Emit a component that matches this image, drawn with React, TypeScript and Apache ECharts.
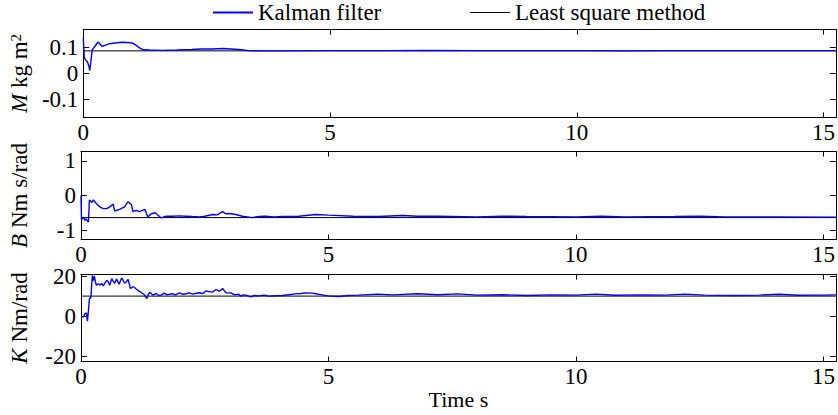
import React, { useEffect, useRef } from "react";
import * as echarts from "echarts";

// Time axis
const timeMax = 15.25;
const timeTicks = [0, 5, 10, 15];

// Least-squares estimates (constant over time)
const lsM = 0.086;
const lsB = -0.64;
const lsK = 10.3;

// Kalman filter estimate of M  [t (s), value (kg m^2)]
const kalmanM: [number, number][] = [
  [0, 0.135], [0.02, 0.06], [0.05, 0.05], [0.08, 0.045], [0.11, 0.03], [0.13, 0.01],
  [0.15, 0.04], [0.18, 0.09], [0.22, 0.1], [0.3, 0.12], [0.38, 0.103], [0.45, 0.108],
  [0.5, 0.112], [0.6, 0.115], [0.72, 0.118], [0.8, 0.119], [0.88, 0.118], [0.96, 0.117],
  [1.02, 0.114], [1.08, 0.106], [1.14, 0.097], [1.22, 0.09], [1.35, 0.089], [1.6, 0.088],
  [1.9, 0.089], [2.2, 0.091], [2.39, 0.093], [2.6, 0.093], [2.83, 0.095], [3.0, 0.093],
  [3.2, 0.09], [3.35, 0.087], [3.6, 0.086], [4.0, 0.086], [5.0, 0.087], [6.0, 0.087],
  [7.0, 0.088], [8.0, 0.087], [9.0, 0.087], [10.0, 0.087], [11.0, 0.086], [12.0, 0.087],
  [13.0, 0.087], [14.0, 0.087], [15.25, 0.087],
];

// Kalman filter estimate of B  [t (s), value (Nm s/rad)]
const kalmanB: [number, number][] = [
  [0, 0], [0.01, -0.7], [0.05, -0.63], [0.08, -0.72], [0.1, -0.68], [0.15, -0.77],
  [0.17, -0.13], [0.22, -0.2], [0.25, -0.13], [0.31, -0.23], [0.38, -0.33], [0.45, -0.38],
  [0.52, -0.38], [0.58, -0.33], [0.65, -0.25], [0.68, -0.45], [0.78, -0.4], [0.88, -0.33],
  [0.95, -0.18], [1.02, -0.27], [1.05, -0.47], [1.12, -0.43], [1.18, -0.47], [1.29, -0.4],
  [1.35, -0.62], [1.42, -0.53], [1.5, -0.5], [1.62, -0.65], [1.72, -0.6], [1.85, -0.6],
  [1.99, -0.59], [2.12, -0.6], [2.25, -0.61], [2.39, -0.62], [2.5, -0.6], [2.66, -0.55],
  [2.75, -0.56], [2.86, -0.47], [2.93, -0.53], [3.0, -0.52], [3.13, -0.55], [3.26, -0.6],
  [3.46, -0.64], [3.6, -0.61], [3.73, -0.6], [3.9, -0.62], [4.07, -0.61], [4.4, -0.6],
  [4.74, -0.55], [5.0, -0.57], [5.5, -0.6], [6.0, -0.61], [6.5, -0.58], [6.8, -0.6],
  [7.2, -0.6], [8.0, -0.62], [8.5, -0.6], [9.0, -0.61], [10.0, -0.62], [10.5, -0.6],
  [11.0, -0.62], [12.0, -0.61], [12.5, -0.6], [13.0, -0.62], [14.0, -0.62], [15.25, -0.63],
];

// Kalman filter estimate of K  [t (s), value (Nm/rad)]
const kalmanK: [number, number][] = [
  [0, 0], [0.05, 0], [0.08, 1.6], [0.11, 1.8], [0.13, -2.2], [0.15, 3], [0.17, 9],
  [0.2, 9.5], [0.21, 14], [0.23, 20.7], [0.25, 18], [0.27, 20.3], [0.29, 17.5], [0.31, 15.7],
  [0.35, 16.5], [0.38, 15.8], [0.42, 16.6], [0.45, 15.4], [0.49, 17], [0.52, 18.2],
  [0.55, 17.5], [0.58, 15.7], [0.62, 19], [0.65, 17.8], [0.68, 16.7], [0.72, 18.8],
  [0.77, 16.2], [0.82, 19.4], [0.85, 18.2], [0.88, 16.7], [0.92, 17.5], [0.95, 18.7],
  [0.98, 16], [1.0, 14.1], [1.05, 15], [1.08, 14.6], [1.12, 13.7], [1.17, 12.8],
  [1.22, 12.1], [1.28, 11], [1.33, 9.1], [1.36, 11.2], [1.39, 12.2], [1.45, 10.8],
  [1.52, 11.6], [1.58, 10.5], [1.63, 10.9], [1.68, 11.8], [1.73, 11], [1.79, 11.2],
  [1.85, 11.5], [1.9, 10.9], [1.99, 11.9], [2.06, 11.2], [2.12, 11.5], [2.19, 11.9],
  [2.26, 11.3], [2.33, 11.7], [2.39, 12.0], [2.46, 11.6], [2.53, 12.9], [2.6, 12.4],
  [2.66, 12.4], [2.73, 13.6], [2.79, 12.8], [2.83, 13.3], [2.86, 14.1], [2.93, 11.9],
  [3.03, 11.9], [3.08, 11.2], [3.13, 10.9], [3.18, 11.3], [3.23, 10.3], [3.28, 10.9],
  [3.33, 10.8], [3.43, 9.9], [3.5, 10.6], [3.6, 10.4], [3.7, 10.8], [3.8, 10.3],
  [3.9, 10.5], [4.07, 10.6], [4.2, 11.0], [4.33, 11.4], [4.45, 11.6], [4.53, 11.9],
  [4.67, 11.8], [4.8, 11.2], [4.9, 10.8], [5.0, 10.4], [5.2, 10.1], [5.4, 10.6],
  [5.6, 10.8], [6.0, 11.3], [6.3, 10.9], [6.8, 11.5], [7.2, 11.0], [7.6, 11.4],
  [8.0, 10.8], [8.5, 11.0], [9.0, 10.6], [9.5, 10.9], [10.0, 10.8], [10.4, 11.3],
  [10.8, 10.7], [11.3, 10.9], [11.8, 10.8], [12.2, 11.3], [12.6, 10.8], [13.2, 10.6],
  [13.7, 10.8], [14.1, 11.2], [14.5, 10.7], [15.0, 10.8], [15.25, 10.9],
];

// Y tick values of each panel
const ticksM = [-0.1, 0, 0.1];
const ticksB = [-1, 0, 1];
const ticksK = [-20, 0, 20];

const FONT = "'Liberation Serif', 'Times New Roman', serif";
const FS = 23;
const KALMAN = "Kalman filter";
const LS = "Least square method";
const KALMAN_COLOR = "#0000ff";

const panels = [
  { top: 29.5, height: 88, min: -0.17, max: 0.168, ticks: ticksM, ls: lsM, kalman: kalmanM,
    name: "{i|M}{r| kg m}{s|2}" },
  { top: 151.5, height: 88, min: -1.275, max: 1.275, ticks: ticksB, ls: lsB, kalman: kalmanB,
    name: "{i|B}{r| Nm s/rad}" },
  { top: 274.5, height: 87, min: -22.4, max: 21.1, ticks: ticksK, ls: lsK, kalman: kalmanK,
    name: "{i|K}{r| Nm/rad}" },
];

export default function App() {
  const ref = useRef<HTMLDivElement>(null);

  useEffect(() => {
    if (!ref.current) return;
    const chart = echarts.init(ref.current, undefined, { renderer: "svg" });

    const axisLine = { show: true, onZero: false, lineStyle: { color: "#000", width: 1 } };
    const labelStyle = { color: "#000", fontFamily: FONT, fontSize: FS };
    // serif text tokens shared by tick labels and legend
    const serifRich = { r: { ...labelStyle } };
    const grid: any[] = [];
    const xAxis: any[] = [];
    const yAxis: any[] = [];
    const series: any[] = [];

    panels.forEach((p, i) => {
      grid.push({ left: 81, top: p.top, width: 758, height: p.height });
      const last = i === panels.length - 1;
      // bottom axis with labels
      xAxis.push({
        type: "value", gridIndex: i, min: 0, max: timeMax, interval: 5, position: "bottom",
        axisLine, splitLine: { show: false },
        axisTick: { inside: true, length: 5, lineStyle: { color: "#000" }, customValues: timeTicks },
        axisLabel: { ...labelStyle, margin: 3, customValues: timeTicks, rich: serifRich,
          formatter: (v: number) => `{r|${v}}` },
        name: last ? "Time s" : "", nameLocation: "middle", nameGap: 27,
        nameTextStyle: { ...labelStyle, fontSize: 22 },
      });
      // mirrored top axis
      xAxis.push({
        type: "value", gridIndex: i, min: 0, max: timeMax, interval: 5, position: "top",
        axisLine, splitLine: { show: false },
        axisTick: { inside: true, length: 5, lineStyle: { color: "#000" }, customValues: timeTicks },
        axisLabel: { show: false },
      });
      // left axis with labels
      yAxis.push({
        type: "value", gridIndex: i, min: p.min, max: p.max, position: "left",
        axisLine, splitLine: { show: false },
        axisTick: { inside: true, length: 6, lineStyle: { color: "#000" }, customValues: p.ticks },
        axisLabel: { ...labelStyle, margin: 5, customValues: p.ticks, rich: serifRich,
          formatter: (v: number) => `{r|${v}}` },
        name: p.name, nameLocation: "middle", nameGap: 50,
        nameTextStyle: {
          ...labelStyle,
          rich: {
            i: { ...labelStyle, fontStyle: "italic" },
            r: { ...labelStyle },
            s: { color: "#000", fontFamily: FONT, fontSize: 15, verticalAlign: "top" },
          },
        },
      });
      // mirrored right axis
      yAxis.push({
        type: "value", gridIndex: i, min: p.min, max: p.max, position: "right",
        axisLine, splitLine: { show: false },
        axisTick: { inside: true, length: 6, lineStyle: { color: "#000" }, customValues: p.ticks },
        axisLabel: { show: false },
      });

      series.push({
        name: LS, type: "line", xAxisIndex: i * 2, yAxisIndex: i * 2,
        data: [[0, p.ls], [timeMax, p.ls]], symbol: "none", z: 2,
        lineStyle: { color: "#000", width: 1 }, itemStyle: { color: "#000" },
      });
      series.push({
        name: KALMAN, type: "line", xAxisIndex: i * 2, yAxisIndex: i * 2,
        data: p.kalman, symbol: "none", z: 3,
        lineStyle: { color: KALMAN_COLOR, width: 1.4 }, itemStyle: { color: KALMAN_COLOR },
      });
    });

    const legendText = { ...labelStyle, rich: serifRich };

    chart.setOption({
      animation: false,
      backgroundColor: "#fff",
      textStyle: { fontFamily: FONT, color: "#000" },
      legend: [
        {
          data: [{ name: KALMAN, icon: "rect", itemStyle: { color: KALMAN_COLOR } }],
          left: 213, top: 1, padding: 0, itemWidth: 40, itemHeight: 2,
          textStyle: legendText, formatter: (n: string) => `{r|${n}}`,
        },
        {
          data: [{ name: LS, icon: "rect", itemStyle: { color: "#000" } }],
          left: 470, top: 1, padding: 0, itemWidth: 40, itemHeight: 1,
          textStyle: legendText, formatter: (n: string) => `{r|${n}}`,
        },
      ],
      grid, xAxis, yAxis, series,
    });

    return () => chart.dispose();
  }, []);

  return (
    <div
      ref={ref}
      style={{ position: "absolute", left: 0, top: 0, width: 838, height: 415, background: "#fff" }}
    />
  );
}
